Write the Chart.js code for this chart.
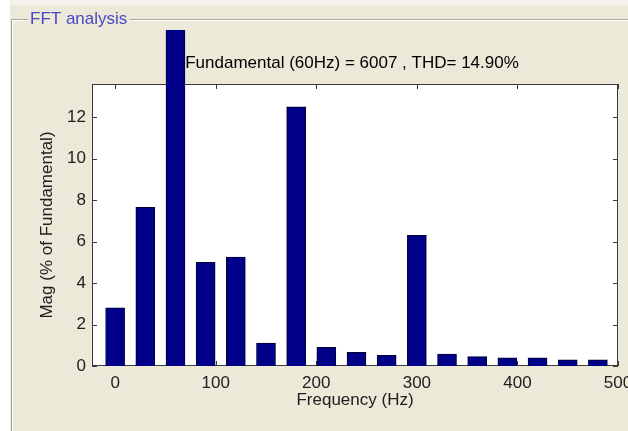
<!DOCTYPE html>
<html>
<head>
<meta charset="utf-8">
<script src="https://cdn.jsdelivr.net/npm/chart.js@4.4.0/dist/chart.umd.min.js"></script>
<style>
  html, body { margin:0; padding:0; background:#ECE9D8; }
  #wrap { width:628px; height:431px; }
</style>
</head>
<body>
<div id="wrap"><canvas id="fftChart" width="628" height="431"></canvas></div>
<script>
// ── Data ──────────────────────────────────────────────────
const FREQS   = [0, 30, 60, 90, 120, 150, 180, 210, 240, 270, 300, 330, 360, 390, 420, 450, 480];
const MAGS    = [2.8, 7.65, 100, 5.0, 5.25, 1.1, 12.5, 0.9, 0.66, 0.52, 6.3, 0.58, 0.45, 0.39, 0.39, 0.3, 0.3];
const X_TICKS = [0, 100, 200, 300, 400, 500];
const Y_TICKS = [0, 2, 4, 6, 8, 10, 12];
const TITLE   = 'Fundamental (60Hz) = 6007 , THD= 14.90%';
const PANEL   = 'FFT analysis';

const FONT = 'Arial, "Liberation Sans", sans-serif';
const BEIGE = '#ECE9D8';

// ── Panel + axes box (MATLAB look) ────────────────────────
const matlabLook = {
  id: 'matlabLook',
  beforeDraw(chart) {
    const { ctx, width, height, chartArea: a } = chart;
    ctx.save();
    ctx.fillStyle = '#FFFFFF';
    ctx.fillRect(0, 0, width, height);
    ctx.fillStyle = '#F4F2EA';
    ctx.fillRect(10, 0, width - 10, 5);
    ctx.fillStyle = BEIGE;
    ctx.fillRect(10, 5, width - 10, height - 5);

    // group box frame
    ctx.strokeStyle = '#ACA899';
    ctx.lineWidth = 1;
    ctx.beginPath();
    ctx.moveTo(11.5, height); ctx.lineTo(11.5, 19.5); ctx.lineTo(width, 19.5);
    ctx.stroke();
    ctx.strokeStyle = '#FFFFFF';
    ctx.beginPath();
    ctx.moveTo(12.5, height); ctx.lineTo(12.5, 20.5); ctx.lineTo(width, 20.5);
    ctx.stroke();

    ctx.font = '17px ' + FONT;
    const tw = ctx.measureText(PANEL).width;
    ctx.fillStyle = BEIGE;
    ctx.fillRect(28, 8, tw + 4, 16);
    ctx.fillStyle = '#4848C8';
    ctx.textBaseline = 'middle';
    ctx.fillText(PANEL, 30, 19);

    // plot background
    ctx.fillStyle = '#FFFFFF';
    ctx.fillRect(a.left, a.top, a.right - a.left, a.bottom - a.top);
    ctx.restore();
  },
  beforeDatasetsDraw(chart) {
    const { ctx, chartArea: a, scales } = chart;
    ctx.save();
    ctx.strokeStyle = '#3A3A3A';
    ctx.lineWidth = 1;
    ctx.strokeRect(a.left + 0.5, a.top + 0.5, a.right - a.left - 1, a.bottom - a.top - 1);
    ctx.beginPath();
    X_TICKS.forEach(v => {
      const px = Math.round(scales.x.getPixelForValue(v)) + 0.5;
      ctx.moveTo(px, a.bottom); ctx.lineTo(px, a.bottom - 5);
      ctx.moveTo(px, a.top);    ctx.lineTo(px, a.top + 5);
    });
    Y_TICKS.forEach(v => {
      const py = Math.round(scales.y.getPixelForValue(v)) + 0.5;
      ctx.moveTo(a.left, py);  ctx.lineTo(a.left + 5, py);
      ctx.moveTo(a.right, py); ctx.lineTo(a.right - 5, py);
    });
    ctx.stroke();
    ctx.restore();
  },
  afterDraw(chart) {
    const { ctx, chartArea: a } = chart;
    ctx.save();
    ctx.font = '17px ' + FONT;
    ctx.fillStyle = '#000000';
    ctx.textAlign = 'center';
    ctx.textBaseline = 'middle';
    ctx.fillText(TITLE, (a.left + a.right) / 2 - 3, 63);
    ctx.restore();
  }
};

// ── Chart ─────────────────────────────────────────────────
const fixTicks = list => scale => { scale.ticks = list.map(v => ({ value: v })); };

new Chart(document.getElementById('fftChart'), {
  type: 'bar',
  data: {
    datasets: [{
      label: 'Mag',
      data: FREQS.map((f, i) => ({ x: f, y: MAGS[i] })),
      backgroundColor: '#000088',
      borderColor: '#000033',
      borderWidth: 1,
      barThickness: 19,
      clip: { left: 0, top: 54, right: 0, bottom: 0 }
    }]
  },
  options: {
    responsive: false,
    animation: false,
    devicePixelRatio: 1,
    layout: { padding: { left: 33, top: 84, right: 10, bottom: 16 } },
    plugins: { legend: { display: false }, tooltip: { enabled: false } },
    scales: {
      x: {
        type: 'linear',
        min: -23, max: 500,
        offset: false,
        bounds: 'ticks',
        grid: { display: false, drawTicks: false, offset: false },
        border: { display: false },
        afterBuildTicks: fixTicks(X_TICKS),
        afterFit: s => { s.height = 49; s.paddingLeft = 0; s.paddingRight = 0; },
        ticks: { color: '#202020', font: { size: 17, family: FONT }, padding: 7, maxRotation: 0, autoSkip: false },
        title: { display: true, text: 'Frequency (Hz)', color: '#202020', font: { size: 17, family: FONT } }
      },
      y: {
        min: 0, max: 13.6,
        grid: { display: false, drawTicks: false },
        border: { display: false },
        afterBuildTicks: fixTicks(Y_TICKS),
        afterFit: s => { s.width = 59; s.paddingTop = 0; s.paddingBottom = 0; },
        ticks: { color: '#202020', font: { size: 17, family: FONT }, padding: 6 },
        title: { display: true, text: 'Mag (% of Fundamental)', color: '#202020', font: { size: 17, family: FONT } }
      }
    }
  },
  plugins: [matlabLook]
});
</script>
</body>
</html>
